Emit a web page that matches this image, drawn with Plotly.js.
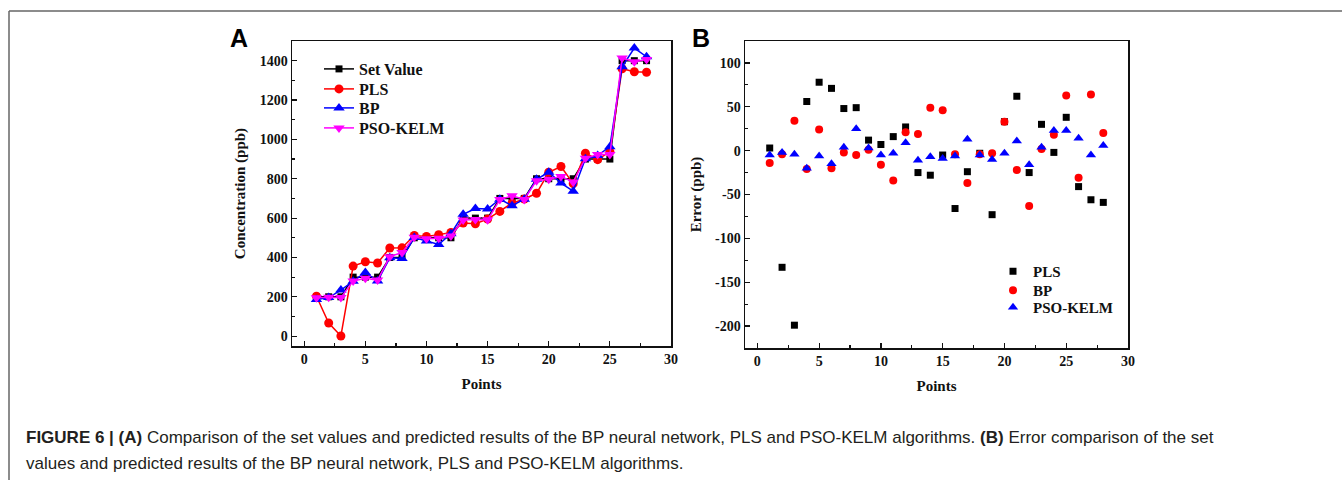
<!DOCTYPE html>
<html>
<head>
<meta charset="utf-8">
<script src="https://cdn.plot.ly/plotly-3.0.1.min.js"></script>
<style>html,body{margin:0;padding:0;background:#fff;}#chart{width:1342px;height:480px;}</style>
</head>
<body>
<div id="chart"></div>
<script>
// ---- data ----
const points = [1,2,3,4,5,6,7,8,9,10,11,12,13,14,15,16,17,18,19,20,21,22,23,24,25,26,27,28];

// Panel A: concentration (ppb)
const setValue = [200,200,200,300,300,300,400,400,500,500,500,500,600,600,600,700,700,700,800,800,800,800,900,900,900,1400,1400,1400];
const plsPred  = [203,67,1,356,378,372,448,449,512,507,516,527,575,571,595,634,676,697,726,833,862,775,930,897,938,1359,1344,1341];
const bpPred   = [186,196,234,279,324,280,398,395,501,484,466,521,619,649,646,696,663,696,797,833,778,737,902,918,963,1369,1464,1420];
const psoPred  = [195,198,196,280,294,285,404,425,503,495,497,509,590,593,591,694,713,695,790,797,811,784,904,923,923,1414,1395,1406];

// Panel B: error (ppb)
const plsErr = [3,-133,-199,56,78,71,48,49,12,7,16,27,-25,-28,-5,-66,-24,-3,-73,33,62,-25,30,-2,38,-41,-56,-59];
const bpErr  = [-14,-4,34,-21,24,-20,-2,-5,1,-16,-34,21,19,49,46,-4,-37,-4,-3,33,-22,-63,2,18,63,-31,64,20];
const psoErr = [-5,-2,-4,-20,-6,-15,4,25,3,-5,-3,9,-11,-7,-9,-6,13,-5,-10,-3,11,-16,4,23,23,14,-5,6];

// tick labels
const xTicks = [0,5,10,15,20,25,30];
const yTicksA = [0,200,400,600,800,1000,1200,1400];
const yTicksB = [-200,-150,-100,-50,0,50,100];
const yTickTextB = ['-200','-150','-100','-50','0','50','100'];

const captionLine1 = '<b>FIGURE 6 | (A)</b> Comparison of the set values and predicted results of the BP neural network, PLS and PSO-KELM algorithms. <b>(B)</b> Error comparison of the set';
const captionLine2 = 'values and predicted results of the BP neural network, PLS and PSO-KELM algorithms.';

// ---- layout helpers ----
const W = 1342, H = 480;
const px = v => v / W;
const py = v => 1 - v / H;
const serif = 'Liberation Serif, Times New Roman, serif';
const sans = 'Liberation Sans, Arial, sans-serif';

function axisBase(extra) {
  return Object.assign({
    showline: true, mirror: true, linecolor: '#111', linewidth: 1.5,
    ticks: 'inside', ticklen: 5, tickwidth: 1.2, tickcolor: '#111',
    showgrid: false, zeroline: false,
    tickfont: {family: serif, size: 14, color: '#111', weight: 'bold'},
  }, extra);
}

const traces = [
  {x: points, y: setValue, name: 'Set Value', mode: 'lines+markers', xaxis: 'x', yaxis: 'y',
   line: {color: '#000', width: 1.5}, marker: {symbol: 'square', size: 7, color: '#000'}, legend: 'legend'},
  {x: points, y: plsPred, name: 'PLS', mode: 'lines+markers', xaxis: 'x', yaxis: 'y',
   line: {color: '#ff0000', width: 1.5}, marker: {symbol: 'circle', size: 9, color: '#ff0000'}, legend: 'legend2'},
  {x: points, y: bpPred, name: 'BP', mode: 'lines+markers', xaxis: 'x', yaxis: 'y',
   line: {color: '#0000ff', width: 1.5}, marker: {symbol: 'triangle-up', size: 10, color: '#0000ff'}, legend: 'legend3'},
  {x: points, y: psoPred, name: 'PSO-KELM', mode: 'lines+markers', xaxis: 'x', yaxis: 'y',
   line: {color: '#ff00ff', width: 1.5}, marker: {symbol: 'triangle-down', size: 10, color: '#ff00ff'}, legend: 'legend4'},

  {x: points, y: plsErr, name: 'PLS', mode: 'markers', xaxis: 'x2', yaxis: 'y2',
   marker: {symbol: 'square', size: 7, color: '#000'}, legend: 'legend5'},
  {x: points, y: bpErr, name: 'BP', mode: 'markers', xaxis: 'x2', yaxis: 'y2',
   marker: {symbol: 'circle', size: 8, color: '#ff0000'}, legend: 'legend6'},
  {x: points, y: psoErr, name: 'PSO-KELM', mode: 'markers', xaxis: 'x2', yaxis: 'y2',
   marker: {symbol: 'triangle-up', size: 9, color: '#0000ff'}, legend: 'legend7'},
];

const titleFont = {family: serif, size: 15, color: '#111', weight: 'bold'};

function legendAt(xPix, topPix, size) {
  return {x: px(xPix), y: py(topPix), xanchor: 'left', yanchor: 'top', bgcolor: 'rgba(0,0,0,0)',
    font: {family: serif, size: size, color: '#111', weight: 'bold'}};
}

const layout = {
  width: W, height: H,
  margin: {l: 0, r: 0, t: 0, b: 0},
  paper_bgcolor: '#fff', plot_bgcolor: '#fff',
  showlegend: true,
  xaxis: axisBase({domain: [px(292), px(671)], range: [-1, 30], tickvals: xTicks,
    minor: {ticks: 'inside', ticklen: 3, dtick: 2.5, tick0: 0, tickcolor: '#111'},
    title: {text: 'Points', font: titleFont, standoff: 12}, anchor: 'y'}),
  yaxis: axisBase({domain: [py(346), py(41)], range: [-50, 1500], tickvals: yTicksA,
    minor: {ticks: 'inside', ticklen: 3, dtick: 100, tick0: 0, tickcolor: '#111'},
    title: {text: 'Concentration (ppb)', font: titleFont, standoff: 10}, anchor: 'x'}),
  xaxis2: axisBase({domain: [px(745), px(1128)], range: [-1, 30], tickvals: xTicks,
    minor: {ticks: 'inside', ticklen: 3, dtick: 2.5, tick0: 0, tickcolor: '#111'},
    title: {text: 'Points', font: titleFont, standoff: 12}, anchor: 'y2'}),
  yaxis2: axisBase({domain: [py(348), py(41)], range: [-225, 125], tickvals: yTicksB, ticktext: yTickTextB,
    minor: {ticks: 'inside', ticklen: 3, dtick: 25, tick0: 0, tickcolor: '#111'},
    title: {text: 'Error (ppb)', font: titleFont, standoff: 10}, anchor: 'x2'}),
  legend:  legendAt(319, 52, 16),
  legend2: legendAt(319, 72, 16),
  legend3: legendAt(319, 91, 16),
  legend4: legendAt(319, 111, 16),
  legend5: legendAt(993, 255, 15),
  legend6: legendAt(993, 274, 15),
  legend7: legendAt(993, 291, 15),
  annotations: [
    {text: '<b>A</b>', xref: 'paper', yref: 'paper', x: px(239), y: py(38), xanchor: 'center', yanchor: 'middle',
     showarrow: false, font: {family: sans, size: 25, color: '#000'}},
    {text: '<b>B</b>', xref: 'paper', yref: 'paper', x: px(701), y: py(38), xanchor: 'center', yanchor: 'middle',
     showarrow: false, font: {family: sans, size: 25, color: '#000'}},
    {text: captionLine1, xref: 'paper', yref: 'paper', x: px(24), y: py(437), xanchor: 'left', yanchor: 'middle',
     showarrow: false, font: {family: sans, size: 17, color: '#231f20'}},
    {text: captionLine2, xref: 'paper', yref: 'paper', x: px(24), y: py(463), xanchor: 'left', yanchor: 'middle',
     showarrow: false, font: {family: sans, size: 17, color: '#231f20'}},
  ],
  shapes: [
    {type: 'line', xref: 'paper', yref: 'paper', x0: px(9), x1: 1, y0: py(11), y1: py(11), line: {color: '#666', width: 1.5}},
    {type: 'line', xref: 'paper', yref: 'paper', x0: px(9), x1: px(9), y0: py(11), y1: 0, line: {color: '#666', width: 1.5}},
  ],
};

Plotly.newPlot('chart', traces, layout, {displayModeBar: false, staticPlot: true});
</script>
</body>
</html>
